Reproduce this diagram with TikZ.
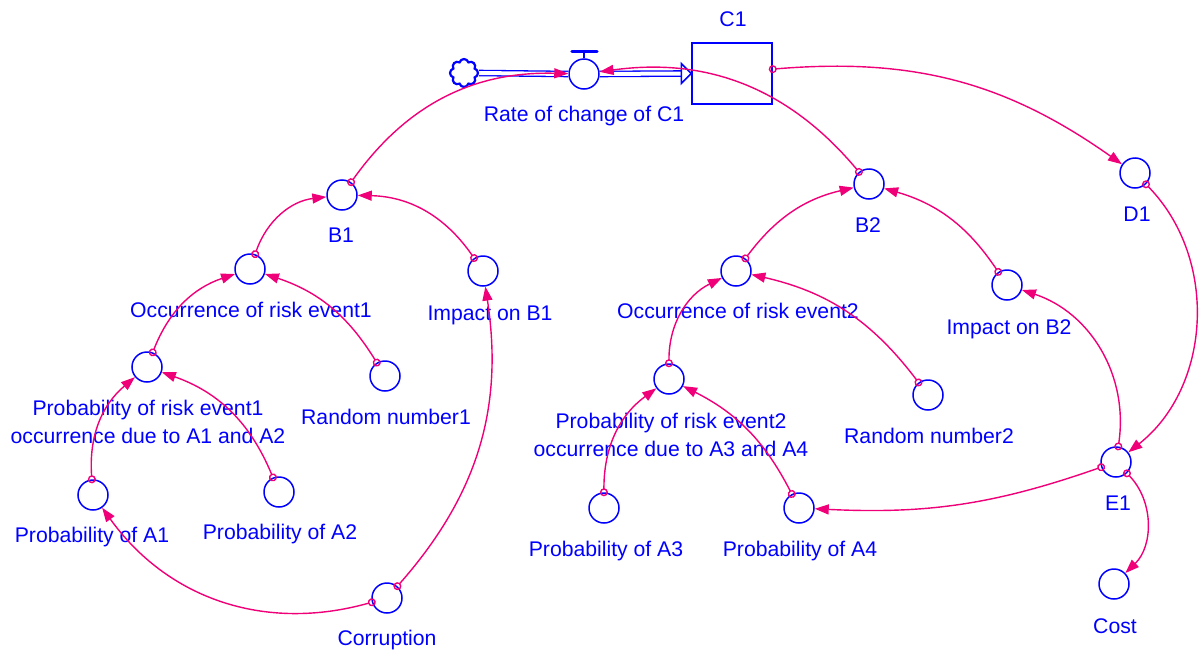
\documentclass[tikz,border=0pt]{standalone}
\usepackage{fontspec}
\setmainfont{Liberation Sans}
\usetikzlibrary{arrows.meta,shapes.symbols}
\definecolor{linkpink}{RGB}{240,0,120}

\begin{document}
\begin{tikzpicture}[x=0.5pt,y=-0.5pt,
	var/.style={circle,draw=blue,line width=0.75pt,minimum size=15pt,inner sep=0pt},
	lbl/.style={anchor=base,text=blue,inner sep=0pt,font=\fontsize{10.6}{14}\selectfont},
	pipe/.style={draw=blue,double,double distance=2pt,line width=0.65pt},
	link/.style={draw=linkpink,line width=0.7pt,shorten <=-2pt,
		{Circle[open,length=4pt,width=4pt]}-{Triangle[length=7pt,width=5pt]}}]
\useasboundingbox (0,0) rectangle (1203,653);
% stock, flow and source
\node[draw=blue,line width=0.75pt,minimum width=40pt,minimum height=30.5pt,inner sep=0pt] (c1) at (732,73.5) {};
\node[var] (valve) at (584,74) {};
\node[cloud,cloud puffs=8,aspect=1,draw=blue,line width=1.1pt,minimum size=14pt,inner sep=0pt] (src) at (464,73) {};
\draw[blue,line width=0.75pt] (valve.north) -- ++(0,-6);
\draw[blue,line width=1.6pt,line cap=round] ([xshift=-6pt,yshift=3.5pt]valve.north) -- ++(25,0);
\draw[pipe] (src.east) -- (valve.west);
\draw[pipe] (valve.east) -- ([xshift=-5pt]c1.west);
\draw[blue,line width=0.75pt,fill=white] (c1.west) -- ++(-10,-10) -- ++(0,20) -- cycle;
% auxiliaries
\foreach \n/\x/\y in {b1/342/195,b2/869/184,d1/1135/173,occ1/250/269,impb1/483/271,
	occ2/736/271,impb2/1007/285,prisk1/147/367,rnd1/385/376,prisk2/669/379,rnd2/928/395,
	e1/1116/462,pa1/93/495,pa2/279/492,pa3/604/508,pa4/799/508,corr/387/598,cost/1114/584}
	\node[var] (\n) at (\x,\y) {};
% labels
\foreach \n/\x/\y/\t in {c1/733/26/C1,valve/584/121/Rate of change of C1,b1/341/242/B1,
	b2/868/232/B2,d1/1137/221/D1,occ1/251/317/Occurrence of risk event1,
	impb1/490/320/Impact on B1,occ2/738/318/Occurrence of risk event2,
	impb2/1009/334/Impact on B2,rnd1/386/424/Random number1,rnd2/929/443/Random number2,
	e1/1118/510/E1,pa1/92/542/Probability of A1,pa2/280/539/Probability of A2,
	pa3/606/556/Probability of A3,pa4/800/556/Probability of A4,corr/387/645/Corruption,
	cost/1115/633/Cost}
	\node[lbl] (\n-lbl) at (\x,\y) {\t};
\node[lbl] (prisk1-lbl) at (148,415) {Probability of risk event1};
\node[lbl] (prisk1-lbl2) at (148,443) {occurrence due to A1 and A2};
\node[lbl] (prisk2-lbl) at (671,428) {Probability of risk event2};
\node[lbl] (prisk2-lbl2) at (671,456) {occurrence due to A3 and A4};
% causal links (negative bend = bend right)
\foreach \a/\b/\c in {b1/valve/28,b2/valve/-29,c1/d1/20,occ1/b1/32,impb1/b1/-27,
	occ2/b2/20,impb2/b2/-20,prisk1/occ1/25,rnd1/occ1/-20,prisk2/occ2/32,rnd2/occ2/-20,
	pa1/prisk1/27,pa2/prisk1/-24,pa3/prisk2/27,pa4/prisk2/-18,corr/pa1/35,corr/impb1/-25,
	e1/impb2/-40,d1/e1/48,e1/pa4/11,e1/cost/45}
	\draw[link] (\a) to[bend left=\c] (\b);
\end{tikzpicture}
\end{document}
